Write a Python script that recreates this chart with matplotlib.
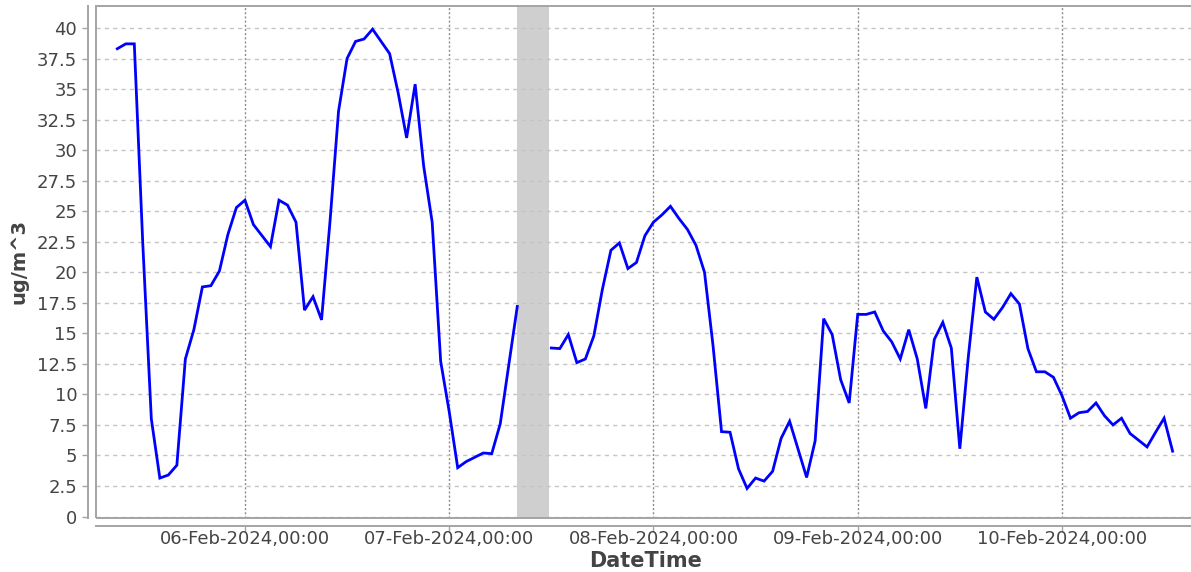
import numpy as np
import pandas as pd
import matplotlib
matplotlib.use("Agg")
import matplotlib.pyplot as plt
import matplotlib.dates as mdates
from matplotlib.patches import Rectangle
from matplotlib.ticker import FixedLocator, FuncFormatter

# Hourly PM concentration (ug/m^3), starting 05-Feb-2024 09:00; NaN = no reading
start_time = "2024-02-05 09:00"
pm_values = [
    38.3, 38.7, 38.7, 22.3, 8.0, 3.15, 3.4, 4.2, 12.9, 15.3, 18.8, 18.9, 20.1, 23.1, 25.3,
    25.9, 23.9, 23.0, 22.1, 25.9, 25.5, 24.1, 16.9, 18.0, 16.1, 24.2, 33.2, 37.5,
    38.9, 39.1, 39.9, 38.9, 37.9, 34.7, 31.0, 35.4, 28.7, 24.1, 12.7,
    8.6, 4.0, 4.5, 4.85, 5.2, 5.15, 7.6, 12.4, 17.2, np.nan, np.nan, np.nan,
    13.8, 13.75, 14.9, 12.6, 12.9, 14.8, 18.6, 21.8, 22.4, 20.3, 20.8, 23.0,
    24.1, 24.7, 25.4, 24.4, 23.5, 22.2, 20.0, 14.0, 6.95, 6.9, 3.9, 2.3,
    3.15, 2.9, 3.7, 6.4, 7.8, 5.5, 3.2, 6.2, 16.2, 14.9, 11.2, 9.3,
    16.55, 16.55, 16.75, 15.2, 14.3, 12.9, 15.3, 12.9, 8.85, 14.5, 15.9, 13.8,
    5.55, 13.1, 19.6, 16.75, 16.15, 17.1, 18.25, 17.4, 13.75, 11.85, 11.85, 11.4,
    9.9, 8.05, 8.5, 8.6, 9.3, 8.25, 7.5, 8.05, 6.8, 6.25, 5.7, 6.9, 8.05, 5.35,
]
times = pd.date_range(start_time, periods=len(pm_values), freq="h")

# Interval without data, shaded
gap_start = pd.Timestamp("2024-02-07 08:00")
gap_end = pd.Timestamp("2024-02-07 11:45")

y_ticks = [0, 2.5, 5, 7.5, 10, 12.5, 15, 17.5, 20, 22.5, 25, 27.5, 30, 32.5, 35, 37.5, 40]
x_ticks = pd.date_range("2024-02-06", "2024-02-10", freq="D")

x_min = pd.Timestamp("2024-02-05 06:30")
x_max = pd.Timestamp("2024-02-10 15:45")

axis_grey = "#a4a4a4"
text_grey = "#444444"

fig = plt.figure(figsize=(11.91, 5.72), dpi=100)
ax = fig.add_axes([96 / 1191, 54 / 572, 1100 / 1191, 512 / 572])

ax.axvspan(gap_start, gap_end, color="#cfcfcf", zorder=0.2, lw=0)
ax.plot(times, pm_values, color="#0000ff", lw=2.0, zorder=3, solid_joinstyle="miter")

ax.set_xlim(x_min, x_max)
ax.set_ylim(-0.12, 41.8)

ax.yaxis.set_major_locator(FixedLocator(y_ticks))
ax.yaxis.set_major_formatter(FuncFormatter(lambda v, p: f"{v:g}"))
ax.xaxis.set_major_locator(FixedLocator(mdates.date2num(x_ticks)))
ax.xaxis.set_major_formatter(mdates.DateFormatter("%d-%b-%Y,%H:%M"))

ax.set_axisbelow(True)
ax.grid(axis="y", color="#c4c4c4", lw=1.0, linestyle=(0, (3, 3)))
ax.grid(axis="x", color="#8c8c8c", lw=1.0, linestyle=(0, (1.5, 1.5)))

for side in ("top", "right"):
    ax.spines[side].set_visible(False)
for side in ("left", "bottom"):
    ax.spines[side].set_position(("outward", 6))
    ax.spines[side].set_color(axis_grey)
    ax.spines[side].set_linewidth(1.4)

# Plot-area border
ax.add_patch(Rectangle((0, 0), 1, 1, transform=ax.transAxes, fill=False,
                       edgecolor=axis_grey, lw=1.4, clip_on=False, zorder=5))

ax.tick_params(axis="both", direction="out", length=4, width=1, color=axis_grey,
               labelcolor=text_grey, labelsize=13)
ax.tick_params(axis="x", pad=-1.5)
ax.tick_params(axis="y", pad=3.5)

ax.set_xlabel("DateTime", fontsize=15, fontweight="bold", color=text_grey)
ax.xaxis.set_label_coords(0.5, -0.0635)
ax.set_ylabel("ug/m^3", fontsize=14, fontweight="bold", color=text_grey, labelpad=6)

fig.savefig("out.png", dpi=100)
